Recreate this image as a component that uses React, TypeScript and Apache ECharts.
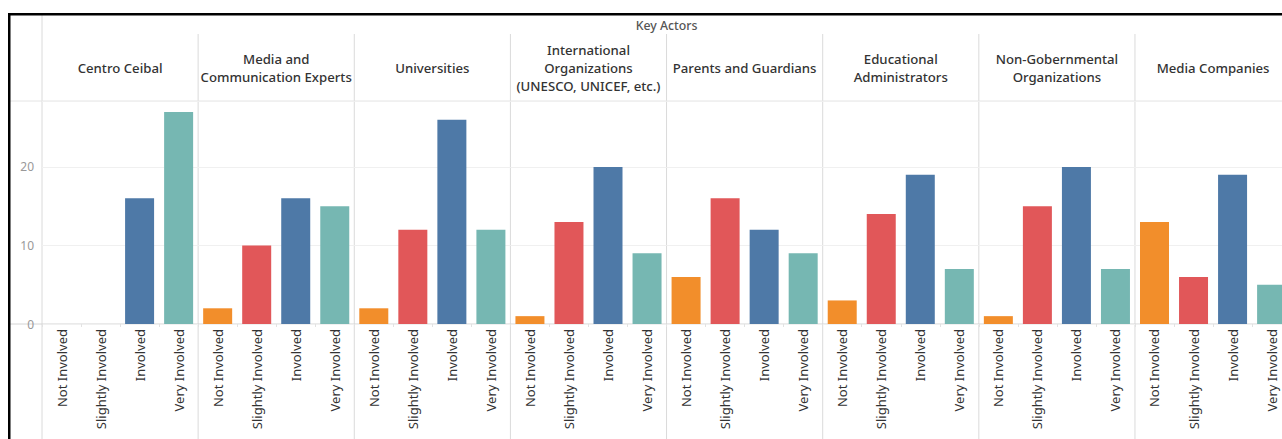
import React, { useEffect, useRef } from "react";
import * as echarts from "echarts";

const categories = ["Not Involved", "Slightly Involved", "Involved", "Very Involved"];
const categoryColors = ["#F28E2B", "#E15759", "#4E79A7", "#76B7B2"];
const actors = [
  "Centro Ceibal",
  "Media and\nCommunication Experts",
  "Universities",
  "International\nOrganizations\n(UNESCO, UNICEF, etc.)",
  "Parents and Guardians",
  "Educational\nAdministrators",
  "Non-Gobernmental\nOrganizations",
  "Media Companies",
];
const centroCeibal = [0, 0, 16, 27];
const mediaExperts = [2, 10, 16, 15];
const universities = [2, 12, 26, 12];
const internationalOrgs = [1, 13, 20, 9];
const parents = [6, 16, 12, 9];
const eduAdmins = [3, 14, 19, 7];
const ngos = [1, 15, 20, 7];
const mediaCompanies = [13, 6, 19, 5];
const values = [centroCeibal, mediaExperts, universities, internationalOrgs, parents, eduAdmins, ngos, mediaCompanies];
const yTicks = [0, 10, 20];
const headerTitle = "Key Actors";

const FONT = "'Noto Sans', sans-serif";
const X0 = 34;
const PW = 156.14;
const TOP = 93;
const H = 223;
const W = 1300;
const HT = 431;

export default function App() {
  const ref = useRef<HTMLDivElement>(null);
  useEffect(() => {
    if (!ref.current) return;
    const chart = echarts.init(ref.current, null, { renderer: "svg" });
    const grids: any[] = [];
    const xAxes: any[] = [];
    const yAxes: any[] = [];
    const series: any[] = [];
    const graphics: any[] = [];

    actors.forEach((name, i) => {
      grids.push({ left: X0 + PW * i, width: PW, top: TOP, height: H });
      xAxes.push({
        type: "category",
        gridIndex: i,
        data: categories,
        axisLine: { show: false },
        axisTick: { show: true, length: 3, lineStyle: { color: "#e2e2e2" } },
        axisLabel: { rotate: 90, margin: 5, fontSize: 13, color: "#333", fontFamily: FONT, interval: 0 },
      });
      yAxes.push({
        type: "value",
        gridIndex: i,
        min: 0,
        max: 28.4,
        interval: 10,
        axisLine: { show: false },
        axisTick: { show: false },
        splitLine: { show: true, lineStyle: { color: "#f0f0f0" } },
        axisLabel: {
          show: i === 0,
          margin: 8,
          fontSize: 12,
          color: "#999",
          fontFamily: FONT,
          formatter: (v: number) => (yTicks.includes(v) ? String(v) : ""),
        },
      });
      series.push({
        type: "bar",
        xAxisIndex: i,
        yAxisIndex: i,
        barWidth: 29,
        data: values[i].map((v, k) => ({ value: v, itemStyle: { color: categoryColors[k] } })),
      });
      graphics.push({
        type: "text",
        x: X0 + PW * (i + 0.5),
        y: 60,
        style: {
          text: name,
          fill: "#333",
          fontSize: 13.2,
          fontFamily: FONT,
          fontWeight: 500,
          textAlign: "center",
          textVerticalAlign: "middle",
          lineHeight: 18,
        },
      });
      if (i > 0) {
        graphics.push({
          type: "line",
          shape: { x1: X0 + PW * i, y1: 26, x2: X0 + PW * i, y2: HT },
          style: { stroke: "#dadada", lineWidth: 1 },
        });
      }
    });

    graphics.push(
      { type: "line", shape: { x1: X0, y1: 6, x2: X0, y2: HT }, style: { stroke: "#dadada", lineWidth: 1 } },
      { type: "line", shape: { x1: 2, y1: TOP, x2: W, y2: TOP }, style: { stroke: "#e4e4e4", lineWidth: 1 } },
      { type: "line", shape: { x1: 2, y1: TOP + H, x2: W, y2: TOP + H }, style: { stroke: "#d4d4d4", lineWidth: 1 } },
      { type: "rect", shape: { x: 0, y: 5, width: W, height: 2.5 }, style: { fill: "#000" } },
      { type: "rect", shape: { x: 0, y: 5, width: 2.5, height: HT }, style: { fill: "#000" } },
      {
        type: "text",
        x: X0 + PW * 4,
        y: 17,
        style: {
          text: headerTitle,
          fill: "#555",
          fontSize: 12.3,
          fontFamily: FONT,
          fontWeight: 500,
          textAlign: "center",
          textVerticalAlign: "middle",
        },
      }
    );

    chart.setOption({
      animation: false,
      backgroundColor: "#fff",
      grid: grids,
      xAxis: xAxes,
      yAxis: yAxes,
      series,
      graphic: graphics,
    });
    return () => chart.dispose();
  }, []);

  return (
    <div style={{ position: "fixed", left: 0, top: 0, width: 1282, height: 439, overflow: "hidden", background: "#fff" }}>
      <div ref={ref} style={{ position: "absolute", left: 8, top: 8, width: W, height: HT }} />
    </div>
  );
}
